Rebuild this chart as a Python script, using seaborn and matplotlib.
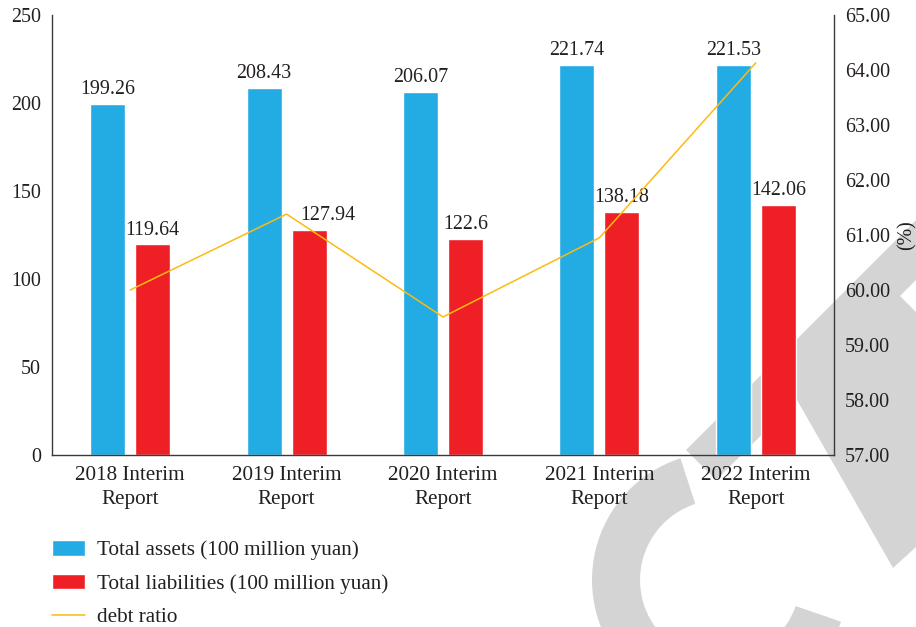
import numpy as np
import pandas as pd
import matplotlib
matplotlib.use("Agg")
import matplotlib.pyplot as plt
import seaborn as sns
from matplotlib.patches import Wedge, Polygon
from matplotlib.transforms import IdentityTransform
from matplotlib.ticker import FormatStrFormatter

# ---------------- data ----------------
categories = ["2018 Interim\nReport", "2019 Interim\nReport", "2020 Interim\nReport",
              "2021 Interim\nReport", "2022 Interim\nReport"]
total_assets = [199.26, 208.43, 206.07, 221.74, 221.53]
total_liabilities = [119.64, 127.94, 122.6, 138.18, 142.06]
debt_ratio = [60.00, 61.38, 59.51, 60.95, 64.13]
asset_labels = ["199.26", "208.43", "206.07", "221.74", "221.53"]
liab_labels = ["119.64", "127.94", "122.6", "138.18", "142.06"]
series_names = ["Total assets (100 million yuan)", "Total liabilities (100 million yuan)"]
line_name = "debt ratio"
left_ticks = [0, 50, 100, 150, 200, 250]
right_ticks = [57, 58, 59, 60, 61, 62, 63, 64, 65]

df = pd.DataFrame({
    "period": categories * 2,
    "value": total_assets + total_liabilities,
    "series": [series_names[0]] * len(categories) + [series_names[1]] * len(categories),
})

# ---------------- style ----------------
sns.set_style("white")
plt.rcParams["font.family"] = ["Liberation Serif", "DejaVu Serif"]
TXT = "#231f20"
BLUE = "#23ace3"
RED = "#ee1f25"
GOLD = "#fdbb10"
SPINE = "#3a3a3a"
FS = 14.4
FS_TXT = 15.2

W, H = 916, 627
fig = plt.figure(figsize=(W / 100, H / 100), dpi=100)

# background watermark (decorative, pixel coordinates)
def px(x, y):
    return (x, H - y)

wm = "#d4d4d4"
arc = Wedge(px(720, 580), 128, 108, 341, width=48, facecolor=wm, edgecolor="none",
            transform=IdentityTransform(), zorder=-5)
fig.add_artist(arc)
band_pts = [px(686, 450), px(916, 220), px(916, 280), px(900, 296), px(916, 312),
            px(916, 547), px(893, 568), px(797, 400), px(716, 480)]
band = Polygon(band_pts, closed=True, facecolor=wm, edgecolor="none",
               transform=IdentityTransform(), zorder=-5)
fig.add_artist(band)

ax = fig.add_axes([52 / W, 1 - 455 / H, (834 - 52) / W, (455 - 15) / H])
ax.set_facecolor("none")

sns.barplot(data=df, x="period", y="value", hue="series", palette=[BLUE, RED],
            width=0.576, gap=0.222, saturation=1, errorbar=None, ax=ax)

label_sets = []
for cont, labs in zip(ax.containers, [asset_labels, liab_labels]):
    label_sets.append(ax.bar_label(cont, labels=labs, padding=3.5, fontsize=FS, color=TXT))
# the 2019 liabilities label sits a little to the right of its bar (clear of the line)
label_sets[1][1].xyann = (13.5, 3.5)

ax.set_ylim(0, 250)
ax.set_xlim(-0.5, len(categories) - 0.5)
ax.set_yticks(left_ticks)
ax.set_xlabel("")
ax.set_ylabel("")
ax.tick_params(axis="both", length=0, labelsize=FS, labelcolor=TXT)
ax.tick_params(axis="y", pad=8)
ax.tick_params(axis="x", pad=8, labelsize=FS_TXT)
for lab in ax.get_xticklabels():
    lab.set_linespacing(1.38)

ax2 = ax.twinx()
sns.lineplot(x=categories, y=debt_ratio, ax=ax2, color=GOLD, linewidth=1.1,
             sort=False, label=line_name)
ax2.set_ylim(57, 65)
ax2.set_yticks(right_ticks)
ax2.yaxis.set_major_formatter(FormatStrFormatter("%.2f"))
ax2.tick_params(axis="y", length=0, pad=8, labelsize=FS, labelcolor=TXT)
ax2.set_ylabel("(%)", fontsize=FS, color=TXT, labelpad=5)

for a in (ax, ax2):
    a.spines["top"].set_visible(False)
    for s in ("left", "right", "bottom"):
        a.spines[s].set_color(SPINE)
        a.spines[s].set_linewidth(1.0)
ax.spines["right"].set_visible(False)
ax2.spines["left"].set_visible(False)
ax2.spines["bottom"].set_visible(False)

h1, l1 = ax.get_legend_handles_labels()
h2, l2 = ax2.get_legend_handles_labels()
if ax.get_legend() is not None:
    ax.get_legend().remove()
if ax2.get_legend() is not None:
    ax2.get_legend().remove()

fig.legend(h1 + h2, l1 + l2, loc="upper left", bbox_to_anchor=(52 / W, 1 - 540 / H),
           frameon=False, borderpad=0, borderaxespad=0, fontsize=FS_TXT,
           handlelength=1.55, handleheight=0.76, handletextpad=0.6, labelspacing=0.64,
           labelcolor=TXT)

fig.savefig("out.png", dpi=100)
